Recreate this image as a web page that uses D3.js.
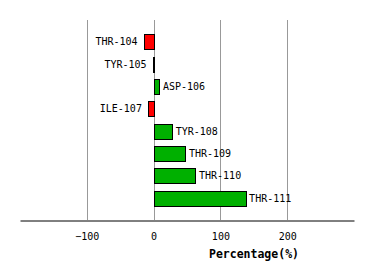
<!DOCTYPE html>
<html>
<head>
<meta charset="utf-8">
<script src="https://cdn.jsdelivr.net/npm/d3@7"></script>
<style>
  body { margin: 0; background: #fff; }
  text { font-family: "DejaVu Sans Mono", monospace; }
</style>
</head>
<body>
<svg id="chart"></svg>
<script>
// Residue labels and their percentage values
const residues = ["THR-104", "TYR-105", "ASP-106", "ILE-107", "TYR-108", "THR-109", "THR-110", "THR-111"];
const values = [-15, -1.5, 8, -8.5, 27, 47, 62, 137];
const xTicks = [-100, 0, 100, 200];

const width = 374, height = 280;
const margin = { top: 20, right: 20, bottom: 60, left: 20 };

const svg = d3.select("#chart")
  .attr("width", width)
  .attr("height", height);

const xScale = d3.scaleLinear()
  .domain([-200, 300])
  .range([margin.left, width - margin.right]);

const yScale = d3.scaleBand()
  .domain(residues)
  .range([margin.top, height - margin.bottom])
  .paddingInner(0.33)
  .paddingOuter(0.65);

// vertical grid lines
svg.append("g")
  .selectAll("line")
  .data(xTicks)
  .enter()
  .append("line")
  .attr("x1", d => Math.round(xScale(d)) + 0.5)
  .attr("x2", d => Math.round(xScale(d)) + 0.5)
  .attr("y1", margin.top)
  .attr("y2", height - margin.bottom)
  .attr("stroke", "#999")
  .attr("stroke-width", 1);

// bars
svg.append("g")
  .selectAll("rect")
  .data(residues)
  .enter()
  .append("rect")
  .attr("x", (d, i) => Math.round(xScale(Math.min(0, values[i]))) + 0.5)
  .attr("y", d => Math.round(yScale(d)) + 0.5)
  .attr("width", (d, i) => Math.max(1, Math.round(Math.abs(xScale(values[i]) - xScale(0)))))
  .attr("height", Math.round(yScale.bandwidth()))
  .attr("fill", (d, i) => values[i] < 0 ? "#ff0000" : "#00b000")
  .attr("stroke", "#000")
  .attr("stroke-width", 1);

// bar labels
svg.append("g")
  .selectAll("text")
  .data(residues)
  .enter()
  .append("text")
  .attr("x", (d, i) => values[i] < 0 ? xScale(values[i]) - 6 : xScale(values[i]) + 4)
  .attr("y", d => yScale(d) + yScale.bandwidth() / 2)
  .attr("dy", "0.35em")
  .attr("text-anchor", (d, i) => values[i] < 0 ? "end" : "start")
  .attr("font-size", 10)
  .attr("fill", "#000")
  .text(d => d);

// x axis
const axis = svg.append("g")
  .attr("transform", `translate(0, ${height - margin.bottom + 0.5})`)
  .call(d3.axisBottom(xScale).tickValues(xTicks).tickSize(0).tickPadding(12));

axis.select(".domain").attr("stroke", "#000");
axis.selectAll("text")
  .attr("font-family", "DejaVu Sans Mono, monospace")
  .attr("font-size", 10)
  .attr("fill", "#000");

svg.append("text")
  .attr("x", 254)
  .attr("y", 258)
  .attr("text-anchor", "middle")
  .attr("font-size", 11.5)
  .attr("font-weight", "bold")
  .attr("fill", "#000")
  .text("Percentage(%)");
</script>
</body>
</html>
